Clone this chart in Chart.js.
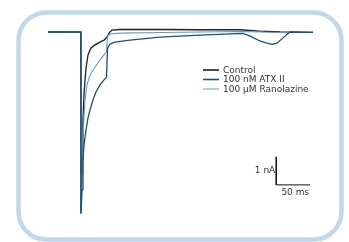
<!DOCTYPE html>
<html>
<head>
<meta charset="utf-8">
<script src="https://cdn.jsdelivr.net/npm/chart.js@4"></script>
<style>
  body { margin: 0; background: #fff; }
  #wrap { position: relative; width: 349px; height: 242px; }
</style>
</head>
<body>
<div id="wrap"><canvas id="trace"></canvas></div>
<script>
// time in ms (0 = depolarising step), current in nA
const controlTime = [-48.5, -0.3, 0, 1.5, 2.9, 4.4, 5.9, 7.4, 10.3, 14.7, 20.6, 27.9, 33.8, 38.2, 41.2, 45.6, 57.3, 120, 175, 234, 263, 293, 341];
const controlCurrent = [0, 0, -6.45, -4.57, -3.14, -2.25, -1.71, -1.29, -0.82, -0.57, -0.46, -0.36, -0.29, -0.18, -0.04, 0.07, 0.09, 0.09, 0.08, 0.08, 0.03, 0.0, -0.01];

const ranoTime = [-48.5, -0.3, 0, 1.5, 2.9, 4.4, 5.9, 8.8, 13.2, 20.6, 27.9, 33.8, 37.5, 39, 42.6, 57.3, 120, 175, 234, 263, 293, 341];
const ranoCurrent = [0, 0, -6.45, -5.1, -3.86, -3.0, -2.43, -1.89, -1.54, -1.25, -1.0, -0.82, -0.71, -0.14, -0.07, -0.04, -0.02, 0, 0.02, 0.0, -0.02, -0.01];

const atxTime = [-48.5, -0.3, 0, 1.5, 2.9, 4.4, 7.4, 10.3, 13.2, 17.6, 22, 27.9, 33.8, 37.5, 39, 42.6, 49.9, 72, 116, 175, 238, 248, 263, 273, 281, 288, 297, 307, 341];
const atxCurrent = [0, 0, -6.5, -5.64, -4.57, -4.04, -3.5, -3.07, -2.79, -2.43, -2.14, -1.89, -1.71, -1.61, -0.57, -0.43, -0.36, -0.29, -0.18, -0.11, -0.05, -0.14, -0.32, -0.40, -0.44, -0.40, -0.21, 0, -0.01];

const seriesLabels = ["Control", "100 nM ATX II", "100 \u00b5M Ranolazine"];
const seriesColors = ["#1f1f1f", "#1b4e7a", "#5d9bcf"];

// scale bar: 1 nA x 50 ms
const barTime = [287, 287, 337];
const barCurrent = [-4.46, -5.46, -5.46];
const barLabels = ["1 nA", "50 ms"];

const toPoints = (xs, ys) => xs.map((x, i) => ({ x: x, y: ys[i] }));

const frame = {
  id: "frame",
  beforeDraw(chart) {
    const ctx = chart.ctx;
    ctx.save();
    ctx.strokeStyle = "#c0d8ec";
    ctx.lineWidth = 4.5;
    ctx.beginPath();
    ctx.roundRect(18.5, 12.5, 323, 227, 28);
    ctx.stroke();
    ctx.restore();
  },
  afterDraw(chart) {
    const ctx = chart.ctx;
    const xs = chart.scales.x;
    const ys = chart.scales.y;
    ctx.save();
    ctx.font = "9px 'DejaVu Sans'";
    ctx.fillStyle = "#333";
    ctx.textBaseline = "middle";

    // legend
    const rows = [70, 79.5, 89];
    seriesLabels.forEach((lab, i) => {
      ctx.strokeStyle = seriesColors[i];
      ctx.lineWidth = i === 2 ? 1 : 1.6;
      ctx.beginPath();
      ctx.moveTo(203, rows[i]);
      ctx.lineTo(219, rows[i]);
      ctx.stroke();
      ctx.textAlign = "left";
      ctx.fillText(lab, 223, rows[i] + 0.5);
    });

    // scale bar labels
    const bx = xs.getPixelForValue(barTime[0]);
    const yTop = ys.getPixelForValue(barCurrent[0]);
    const yBot = ys.getPixelForValue(barCurrent[1]);
    const xEnd = xs.getPixelForValue(barTime[2]);
    ctx.textAlign = "right";
    ctx.fillText(barLabels[0], bx - 1, (yTop + yBot) / 2);
    ctx.textAlign = "center";
    ctx.fillText(barLabels[1], (bx + xEnd) / 2 + 2, yBot + 8);
    ctx.restore();
  }
};

new Chart(document.getElementById("trace").getContext("2d"), {
  type: "line",
  data: {
    datasets: [
      {
        label: seriesLabels[1],
        data: toPoints(atxTime, atxCurrent),
        borderColor: seriesColors[1],
        borderWidth: 1.3,
        order: 1
      },
      {
        label: seriesLabels[2],
        data: toPoints(ranoTime, ranoCurrent),
        borderColor: seriesColors[2],
        borderWidth: 1.1,
        order: 2
      },
      {
        label: seriesLabels[0],
        data: toPoints(controlTime, controlCurrent),
        borderColor: seriesColors[0],
        borderWidth: 1.3,
        order: 3
      },
      {
        label: "scale",
        data: toPoints(barTime, barCurrent),
        borderColor: "#111",
        borderWidth: 1,
        order: 0
      }
    ]
  },
  options: {
    responsive: true,
    maintainAspectRatio: false,
    animation: false,
    layout: { padding: { left: 48, right: 36, top: 18, bottom: 14 } },
    elements: { point: { radius: 0 }, line: { tension: 0, fill: false } },
    plugins: { legend: { display: false }, tooltip: { enabled: false } },
    scales: {
      x: { type: "linear", min: -48.5, max: 341, display: false },
      y: { type: "linear", min: -7, max: 0.5, display: false }
    }
  },
  plugins: [frame]
});
</script>
</body>
</html>
